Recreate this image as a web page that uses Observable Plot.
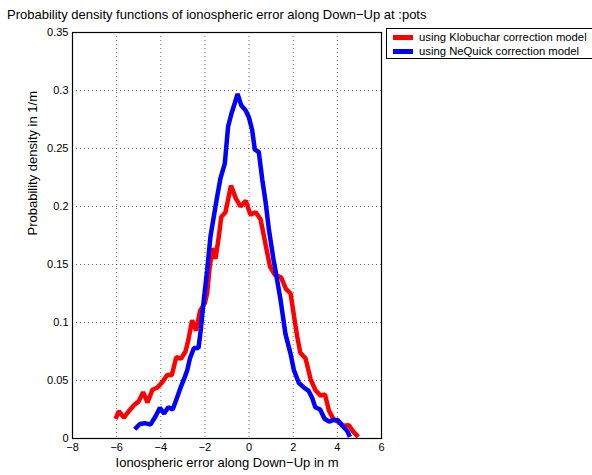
<!DOCTYPE html>
<html>
<head>
<meta charset="utf-8">
<script src="https://cdn.jsdelivr.net/npm/d3@7"></script>
<script src="https://cdn.jsdelivr.net/npm/@observablehq/plot@0.6"></script>
<style>
  body { margin: 0; background: #fff; font-family: "Liberation Sans", Arial, sans-serif; overflow: hidden; }
  #wrap { position: relative; width: 592px; height: 475px; overflow: hidden; }
  #title { position: absolute; left: 7px; top: 7px; font-size: 13px; white-space: nowrap; color: #000; }
  #legend { position: absolute; left: 386px; top: 28px; width: 214px; height: 29px; border: 1px solid #000; background: #fff; font-size: 11.3px; }
  .item { position: absolute; left: 0; height: 14px; display: flex; align-items: center; white-space: nowrap; }
  .swatch { display: inline-block; width: 20px; height: 5px; margin: 0 6px 0 6px; }
  #chart { position: absolute; left: 0; top: 0; }
</style>
</head>
<body>
<div id="wrap">
  <div id="chart"></div>
  <div id="title">Probability density functions of ionospheric error along Down−Up at :pots</div>
  <div id="legend"></div>
</div>
<script>
const seriesNames = ["using Klobuchar correction model", "using NeQuick correction model"];
const seriesColors = ["#ff0000", "#0000ff"];

const klobX = [-6.05,-5.9,-5.67,-5.45,-5.22,-5.0,-4.8,-4.6,-4.38,-4.15,-3.92,-3.7,-3.5,-3.3,-3.08,-2.88,-2.75,-2.58,-2.4,-2.22,-2.0,-1.9,-1.8,-1.67,-1.52,-1.37,-1.26,-1.07,-0.82,-0.6,-0.39,-0.15,0.06,0.3,0.52,0.74,0.95,1.17,1.45,1.67,1.88,2.04,2.18,2.32,2.56,2.79,3.01,3.24,3.44,3.62,3.83,4.05,4.28,4.52,4.73,4.95];
const klobY = [0.017,0.0235,0.018,0.0235,0.0287,0.032,0.040,0.031,0.042,0.044,0.049,0.055,0.0545,0.070,0.069,0.075,0.085,0.102,0.093,0.110,0.117,0.125,0.145,0.164,0.155,0.174,0.191,0.195,0.218,0.207,0.200,0.205,0.193,0.195,0.189,0.168,0.148,0.141,0.139,0.129,0.125,0.105,0.088,0.074,0.069,0.051,0.0416,0.037,0.038,0.024,0.0165,0.0143,0.011,0.0115,0.0057,0.0014];

const nequickX = [-5.18,-4.95,-4.72,-4.47,-4.24,-4.04,-3.85,-3.66,-3.46,-3.27,-3.1,-2.93,-2.8,-2.68,-2.5,-2.29,-2.18,-2.1,-1.9,-1.75,-1.6,-1.45,-1.3,-1.1,-0.95,-0.8,-0.65,-0.52,-0.35,-0.16,-0.01,0.14,0.26,0.44,0.6,0.74,0.9,1.1,1.25,1.43,1.65,1.88,2.03,2.25,2.48,2.7,2.86,3.0,3.22,3.42,3.63,3.83,4.01,4.22,4.45,4.57];
const nequickY = [0.008,0.0125,0.0132,0.012,0.019,0.0265,0.0215,0.027,0.025,0.035,0.044,0.052,0.059,0.069,0.078,0.078,0.095,0.111,0.145,0.174,0.191,0.208,0.224,0.237,0.269,0.280,0.289,0.297,0.287,0.283,0.277,0.266,0.249,0.247,0.223,0.205,0.180,0.155,0.139,0.119,0.090,0.073,0.059,0.048,0.044,0.041,0.035,0.027,0.025,0.017,0.0145,0.016,0.016,0.011,0.0065,0.0014];

const xTicks = [-8,-6,-4,-2,0,2,4,6];
const yTicks = [0,0.05,0.1,0.15,0.2,0.25,0.3,0.35];
const yTickLabels = ["0","0.05","0.1","0.15","0.2","0.25","0.3","0.35"];
const xLabel = "Ionospheric error along Down−Up in m";
const yLabel = "Probability density in 1/m";

const rows = [
  ...klobX.map((x, i) => ({x, y: klobY[i], s: seriesNames[0]})),
  ...nequickX.map((x, i) => ({x, y: nequickY[i], s: seriesNames[1]}))
];

const fmtX = d => d < 0 ? "−" + Math.abs(d) : String(d);

const chart = Plot.plot({
  width: 592,
  height: 475,
  marginLeft: 72,
  marginRight: 211,
  marginTop: 32,
  marginBottom: 37,
  style: {fontFamily: "Liberation Sans, Arial, sans-serif", fontSize: "11px", color: "#000", background: "transparent"},
  x: {domain: [-8, 6], ticks: xTicks, tickFormat: fmtX, label: null},
  y: {domain: [0, 0.35], ticks: yTicks, tickFormat: (d, i) => yTickLabels[i], label: null},
  color: {domain: seriesNames, range: seriesColors},
  marks: [
    Plot.ruleX(xTicks.slice(1, -1), {stroke: "#333", strokeOpacity: 0.9, strokeWidth: 0.8, strokeDasharray: "1,3"}),
    Plot.ruleY(yTicks.slice(1, -1), {stroke: "#333", strokeOpacity: 0.9, strokeWidth: 0.8, strokeDasharray: "1,3"}),
    Plot.lineY(rows, {x: "x", y: "y", z: "s", stroke: "s", strokeWidth: 4.5, strokeLinejoin: "miter", strokeLinecap: "butt"}),
    Plot.axisX({ticks: xTicks, tickSize: 0, tickPadding: 5, fontSize: 11, label: null, tickFormat: fmtX}),
    Plot.axisY({ticks: yTicks, tickSize: 0, tickPadding: 4, fontSize: 11, label: null, tickFormat: (d, i) => yTickLabels[i]}),
    Plot.text([xLabel], {frameAnchor: "bottom", dy: 28, fontSize: 13, text: d => d}),
    Plot.text([yLabel], {frameAnchor: "left", dx: -40, rotate: -90, fontSize: 13, text: d => d}),
    Plot.frame({stroke: "#000", strokeWidth: 1.2})
  ]
});
document.getElementById("chart").appendChild(chart);

const legend = document.getElementById("legend");
seriesNames.forEach((name, i) => {
  const item = document.createElement("div");
  item.className = "item";
  item.style.top = (1 + i * 14) + "px";
  const sw = document.createElement("span");
  sw.className = "swatch";
  sw.style.background = seriesColors[i];
  item.appendChild(sw);
  item.appendChild(document.createTextNode(name));
  legend.appendChild(item);
});
</script>
</body>
</html>
